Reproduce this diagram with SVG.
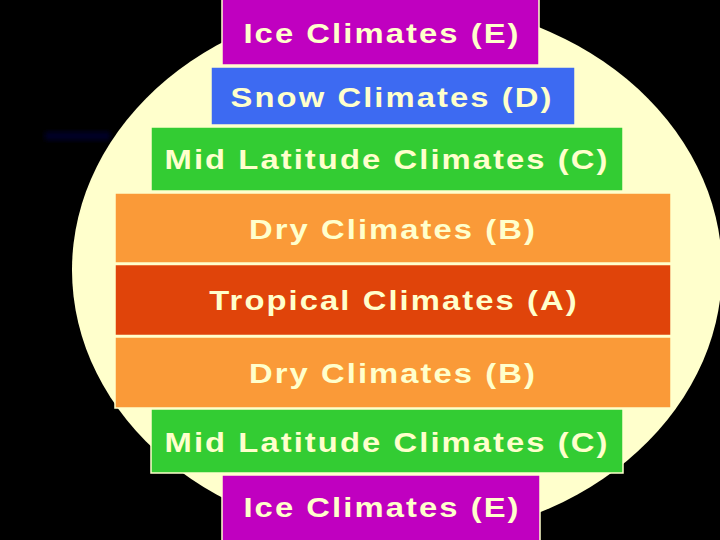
<svg xmlns="http://www.w3.org/2000/svg" width="720" height="540" viewBox="0 0 720 540">
<style>
.bx{stroke:#FFFFCC;stroke-width:1.5}
.t{font-family:"Liberation Sans",Arial,sans-serif;font-weight:bold;font-size:28.5px;letter-spacing:1.8px;fill:#FFFFCC;text-anchor:middle}
.ice{fill:#C000C0}.snow{fill:#3D6AF2}.mid{fill:#33CC33}.dry{fill:#FA9A38}.trop{fill:#E0440A}
</style>
<defs><filter id="bl" x="-20%" y="-100%" width="140%" height="300%"><feGaussianBlur stdDeviation="2.5"/></filter></defs>
<rect x="0" y="0" width="720" height="540" fill="#000000"/>
<rect x="45" y="132" width="65" height="8" fill="#06062c" filter="url(#bl)"/>
<ellipse cx="397" cy="270" rx="325" ry="270" fill="#FFFFCC"/>
<g id="ice-top"><rect class="bx ice" x="222" y="-2" width="317" height="67"/><text class="t" transform="translate(382 43) scale(1.15 1)">Ice Climates (E)</text></g>
<g id="snow"><rect class="bx snow" x="211" y="67" width="364" height="58"/><text class="t" transform="translate(392 107) scale(1.15 1)">Snow Climates (D)</text></g>
<g id="mid-top"><rect class="bx mid" x="151" y="127" width="472" height="64"/><text class="t" transform="translate(387 169) scale(1.15 1)">Mid Latitude Climates (C)</text></g>
<g id="dry-top"><rect class="bx dry" x="115" y="193" width="556" height="70"/><text class="t" transform="translate(393 239) scale(1.15 1)">Dry Climates (B)</text></g>
<g id="tropical"><rect class="bx trop" x="115" y="264.5" width="556" height="71"/><text class="t" transform="translate(394 310) scale(1.15 1)">Tropical Climates (A)</text></g>
<g id="dry-bottom"><rect class="bx dry" x="115" y="337" width="556" height="71"/><text class="t" transform="translate(393 383) scale(1.15 1)">Dry Climates (B)</text></g>
<g id="mid-bottom"><rect class="bx mid" x="151" y="409" width="472" height="64"/><text class="t" transform="translate(387 452) scale(1.15 1)">Mid Latitude Climates (C)</text></g>
<g id="ice-bottom"><rect class="bx ice" x="222" y="475" width="318" height="67"/><text class="t" transform="translate(382 517) scale(1.15 1)">Ice Climates (E)</text></g>
<g id="connectors"></g>
</svg>
